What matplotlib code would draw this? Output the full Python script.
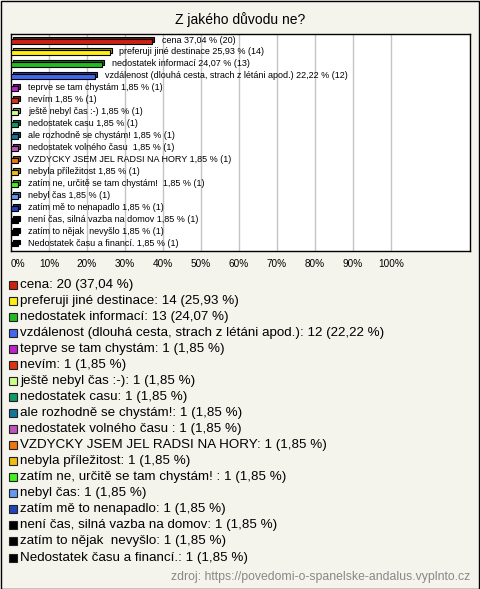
import matplotlib
matplotlib.use("Agg")
import matplotlib.pyplot as plt
import matplotlib.colors as mcolors
import numpy as np

plt.rcParams['font.family'] = ['Liberation Sans', 'DejaVu Sans']

title = "Z jakého důvodu ne?"
source = "zdroj: https://povedomi-o-spanelske-andalus.vyplnto.cz"

# answers as shown in the chart (some have trailing spaces in the original)
answers = [
    "cena",
    "preferuji jiné destinace",
    "nedostatek informací",
    "vzdálenost (dlouhá cesta, strach z létáni apod.)",
    "teprve se tam chystám",
    "nevím",
    "ještě nebyl čas :-)",
    "nedostatek casu",
    "ale rozhodně se chystám!",
    "nedostatek volného času ",
    "VZDYCKY JSEM JEL RADSI NA HORY",
    "nebyla příležitost",
    "zatím ne, určitě se tam chystám! ",
    "nebyl čas",
    "zatím mě to nenapadlo",
    "není čas, silná vazba na domov",
    "zatím to nějak  nevyšlo",
    "Nedostatek času a financí.",
]
counts = [20, 14, 13, 12, 1, 1, 1, 1, 1, 1, 1, 1, 1, 1, 1, 1, 1, 1]
respondents = 54  # multiple answers allowed, percentages are per respondent
colors = ["#cc2211", "#ffee11", "#22bb22", "#4466ee", "#bb22cc", "#dd3311",
          "#ccff88", "#119966", "#117799", "#bb55bb", "#ee7711", "#eebb11",
          "#44ee22", "#6699ee", "#2244bb", "#000000", "#000000", "#000000"]
ticks = [0, 10, 20, 30, 40, 50, 60, 70, 80, 90, 100]

bg = "#f4f3ec"
W, H = 480, 589
pcts = [c / respondents * 100 for c in counts]


def fmt(p):
    return ("%.2f" % p).replace(".", ",")


fig = plt.figure(figsize=(W / 100, H / 100), dpi=100, facecolor=bg)

# outer frame
fig.patches.append(plt.Rectangle((0.5 / W, 0.5 / H), 1 - 1.5 / W, 1 - 1.5 / H,
                                 transform=fig.transFigure, fill=False,
                                 edgecolor="black", linewidth=1))

fig.text(0.5, 1 - 20 / H, title, ha="center", va="center", fontsize=10)

# plot area in pixels
left, right, top, bottom = 11, 470, 34, 251
ax = fig.add_axes([left / W, 1 - bottom / H, (right - left) / W, (bottom - top) / H])
ax.set_facecolor("white")
px_per_pct = 3.8
n = len(answers)
first_row, last_row = 41, 244
row_px = (last_row - first_row) / (n - 1)
ax.set_xlim(0, (right - left) / px_per_pct)
ax.set_ylim((bottom - first_row) / row_px, -(first_row - top) / row_px)

for t in ticks[1:]:
    ax.axvline(t, color="#c4c4c4", linewidth=1, zorder=0)

y = np.arange(n)
h = 5 / row_px
dx = 2 / px_per_pct
dy = 2 / row_px
dark = [tuple(np.array(mcolors.to_rgb(c)) * 0.6) for c in colors]
ax.barh(y - dy, pcts, left=dx, height=h, color=dark, edgecolor="black",
        linewidth=0.8, zorder=2)
ax.barh(y, pcts, height=h, color=colors, edgecolor="black", linewidth=0.8, zorder=3)

for i, (a, c, p) in enumerate(zip(answers, counts, pcts)):
    ax.text(p + 2.6, i - 0.08, "%s %s %% (%d)" % (a, fmt(p), c), ha="left",
            va="center", fontsize=6.5, zorder=4)

ax.set_xticks([])
ax.set_yticks([])
for s in ax.spines.values():
    s.set_linewidth(1)
    s.set_color("black")

# x tick labels below the plot
for t in ticks:
    xp = left + t * px_per_pct
    ha = "left" if t == 0 else "center"
    fig.text(xp / W, 1 - 264 / H, "%d%%" % t, ha=ha, va="center", fontsize=7.2)

# legend
leg_y0, leg_y1 = 284.5, 557.5
leg_step = (leg_y1 - leg_y0) / (n - 1)
for i, (a, c, p) in enumerate(zip(answers, counts, pcts)):
    yp = leg_y0 + i * leg_step
    fig.patches.append(plt.Rectangle((9 / W, 1 - (yp + 4) / H), 8 / W, 8 / H,
                                     transform=fig.transFigure,
                                     facecolor=colors[i], edgecolor="#222222",
                                     linewidth=0.8))
    fig.text(20 / W, 1 - yp / H, "%s: %d (%s %%)" % (a, c, fmt(p)),
             ha="left", va="center", fontsize=9.6)

fig.text(470 / W, 1 - 577 / H, source, ha="right", va="center",
         fontsize=8.8, color="#888888")

fig.savefig("out.png", dpi=100, facecolor=bg)
